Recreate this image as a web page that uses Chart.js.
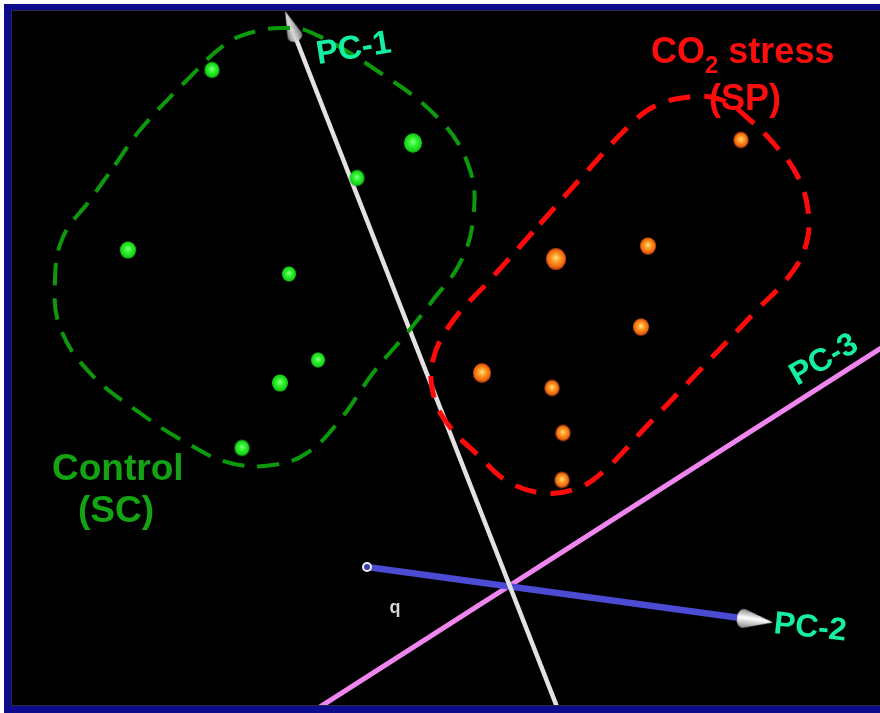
<!DOCTYPE html>
<html>
<head>
<meta charset="utf-8">
<script src="https://cdn.jsdelivr.net/npm/chart.js@4.4.1/dist/chart.umd.min.js"></script>
<style>
  html, body { margin: 0; padding: 0; background: #fff; width: 880px; height: 713px; overflow: hidden; }
  #frame { position: absolute; left: 4px; top: 4px; width: 900px; height: 720px; background: #0b0b8c; }
  #panel { position: absolute; left: 11px; top: 10px; width: 880px; height: 694px; background: #000;
           border-top: 1px solid #2b2b45; border-left: 1px solid #2b2b45; border-bottom: 1px solid #2b2b45; }
  canvas { position: absolute; left: 0; top: 0; }
</style>
</head>
<body>
<div id="frame"></div>
<div id="panel"></div>
<canvas id="pca" width="880" height="713"></canvas>
<script>
// Projected PCA scores of each sample (horizontal, vertical screen score)
const controlX = [212, 413, 357, 128, 289, 318, 280, 242];
const controlY = [70, 143, 178, 250, 274, 360, 383, 448];
const stressX  = [741, 556, 648, 641, 482, 552, 563, 562];
const stressY  = [140, 259, 246, 327, 373, 388, 433, 480];

// Outline around each group
const controlHullX = [115, 140, 190, 227, 257, 285, 310, 373, 440, 470, 473, 460, 433, 407, 373, 340, 307, 273, 230, 187, 140, 90, 60, 55, 63, 90, 115];
const controlHullY = [165, 130, 77, 43, 31, 28, 32, 68, 120, 170, 220, 263, 300, 333, 373, 420, 453, 465, 463, 443, 413, 373, 327, 280, 237, 200, 165];
const stressHullX  = [540, 590, 630, 655, 690, 722, 750, 775, 797, 808, 806, 790, 755, 700, 645, 605, 578, 543, 507, 478, 450, 434, 433, 452, 490, 540];
const stressHullY  = [224, 168, 125, 106, 97, 100, 120, 145, 175, 210, 245, 275, 312, 370, 428, 470, 488, 493, 481, 455, 427, 397, 360, 322, 280, 224];

// Principal component axes (from, to)
const pc1X = [559, 291], pc1Y = [712, 26];
const pc2X = [367, 755], pc2Y = [567, 620];
const pc3X = [312, 892], pc3Y = [712, 341];

// Text
const axisNames  = ['PC-1', 'PC-2', 'PC-3'];
const groupNames = ['Control', '(SC)', 'CO', '2', ' stress', '(SP)'];
const depthMark  = 'q';

// Marker sizes (depth cue)
const controlSize = [7.5, 9, 7.5, 8, 7, 7, 8, 7.5];
const stressSize  = [7.5, 10, 8, 8, 9, 7.5, 7.5, 7.5];

const FONT = '"Liberation Sans", Arial, sans-serif';
const pts = (xs, ys) => xs.map((x, i) => ({ x, y: ys[i] }));

function dotSprite(r, stops) {
  const w = Math.ceil(r * 2) + 4, h = Math.ceil(r * 2.2) + 4;
  const c = document.createElement('canvas');
  c.width = w; c.height = h;
  const g = c.getContext('2d');
  const grad = g.createRadialGradient(w / 2, h / 2 - r * 0.15, 0, w / 2, h / 2, r * 1.1);
  stops.forEach(([o, col]) => grad.addColorStop(o, col));
  g.fillStyle = grad;
  g.beginPath();
  g.ellipse(w / 2, h / 2, r, r * 1.1, 0, 0, Math.PI * 2);
  g.fill();
  return c;
}

function coneSprite(len, wid, light, dark) {
  const c = document.createElement('canvas');
  c.width = Math.ceil(wid) + 2; c.height = Math.ceil(len) + 4;
  const g = c.getContext('2d');
  const cx = c.width / 2;
  const grad = g.createLinearGradient(cx - wid / 2, 0, cx + wid / 2, 0);
  grad.addColorStop(0, dark); grad.addColorStop(0.45, light); grad.addColorStop(1, dark);
  g.fillStyle = grad;
  g.beginPath();
  g.moveTo(cx, 1);
  g.lineTo(cx + wid / 2, len - wid * 0.2);
  g.quadraticCurveTo(cx + wid / 2, len + 3, cx, len + 3);
  g.quadraticCurveTo(cx - wid / 2, len + 3, cx - wid / 2, len - wid * 0.2);
  g.closePath();
  g.fill();
  return c;
}

const greenStops  = [[0, '#8dff8d'], [0.4, '#30f530'], [0.85, '#16cf16'], [1, '#0a7a0a']];
const orangeStops = [[0, '#ffe48a'], [0.35, '#ffa22a'], [0.75, '#f06a10'], [1, '#a83406']];
const greenDots  = controlSize.map(r => dotSprite(r, greenStops));
const orangeDots = stressSize.map(r => dotSprite(r, orangeStops));

const cone1 = coneSprite(30, 15, '#dcdcdc', '#7a7a7a');
const cone2 = coneSprite(34, 19, '#ffffff', '#8a8a8a');

// heading of an axis, degrees clockwise from "up"
const heading = (xs, ys) => Math.atan2(xs[1] - xs[0], -(ys[1] - ys[0])) * 180 / Math.PI;

const labels = [
  { runs: [{ t: axisNames[0] }], x: 318, y: 64, rot: -9, size: 33, color: '#14f0a0' },
  { runs: [{ t: axisNames[1] }], x: 773, y: 633, rot: 6, size: 32, color: '#14f0a0' },
  { runs: [{ t: axisNames[2] }], x: 797, y: 386, rot: -30, size: 32, color: '#14f0a0' },
  { runs: [{ t: groupNames[0] }], x: 52, y: 480, size: 37, color: '#13a313' },
  { runs: [{ t: groupNames[1] }], x: 116, y: 522, size: 37, color: '#13a313', center: true },
  { runs: [{ t: groupNames[2] }, { t: groupNames[3], sub: true }, { t: groupNames[4] }], x: 651, y: 63, size: 36, color: '#ff0d0d' },
  { runs: [{ t: groupNames[5] }], x: 745, y: 110, size: 36, color: '#ff0d0d', center: true },
  { runs: [{ t: depthMark }], x: 395, y: 613, size: 18, color: '#d8d8d8', center: true }
];

const labelPlugin = {
  id: 'pcaLabels',
  afterDatasetsDraw(chart) {
    const { ctx, scales: { x, y } } = chart;
    ctx.save();
    ctx.textBaseline = 'alphabetic';
    ctx.textAlign = 'left';
    for (const l of labels) {
      const fontOf = r => `bold ${r.sub ? Math.round(l.size * 0.66) : l.size}px ${FONT}`;
      let total = 0;
      for (const r of l.runs) { ctx.font = fontOf(r); total += ctx.measureText(r.t).width; }
      ctx.save();
      ctx.translate(x.getPixelForValue(l.x), y.getPixelForValue(l.y));
      if (l.rot) ctx.rotate(l.rot * Math.PI / 180);
      ctx.fillStyle = l.color;
      let cx = l.center ? -total / 2 : 0;
      for (const r of l.runs) {
        ctx.font = fontOf(r);
        ctx.fillText(r.t, cx, r.sub ? l.size * 0.28 : 0);
        cx += ctx.measureText(r.t).width;
      }
      ctx.restore();
    }
    ctx.restore();
  }
};

new Chart(document.getElementById('pca'), {
  type: 'scatter',
  data: {
    datasets: [
      {
        label: 'Control (SC)',
        data: pts(controlX, controlY),
        pointStyle: c => greenDots[c.dataIndex],
        pointRadius: c => controlSize[c.dataIndex],
        order: 0
      },
      {
        label: 'CO2 stress (SP)',
        data: pts(stressX, stressY),
        pointStyle: c => orangeDots[c.dataIndex],
        pointRadius: c => stressSize[c.dataIndex],
        order: 0
      },
      {
        label: 'Control outline',
        data: pts(controlHullX, controlHullY),
        showLine: true, tension: 0.4, fill: false,
        borderColor: '#0c9a0c', borderWidth: 4, borderDash: [22, 13],
        pointRadius: 0, order: 1
      },
      {
        label: 'Stress outline',
        data: pts(stressHullX, stressHullY),
        showLine: true, tension: 0.4, fill: false,
        borderColor: '#ff0a0a', borderWidth: 5, borderDash: [22, 14],
        pointRadius: 0, order: 1
      },
      {
        label: axisNames[0],
        data: pts(pc1X, pc1Y),
        showLine: true, borderColor: '#e2e2e2', borderWidth: 4.5,
        pointRadius: c => c.dataIndex === 1 ? 10 : 0,
        pointStyle: c => c.dataIndex === 1 ? cone1 : 'circle',
        rotation: heading(pc1X, pc1Y),
        clip: 0, order: 2
      },
      {
        label: axisNames[1],
        data: pts(pc2X, pc2Y),
        showLine: true, borderColor: '#4b4bd4', borderWidth: 6.5,
        pointRadius: c => c.dataIndex === 1 ? 12 : 4,
        pointStyle: c => c.dataIndex === 1 ? cone2 : 'circle',
        pointBackgroundColor: '#3a3aa8',
        pointBorderColor: '#f2f2f2',
        pointBorderWidth: 2,
        rotation: heading(pc2X, pc2Y),
        clip: 0, order: 3
      },
      {
        label: axisNames[2],
        data: pts(pc3X, pc3Y),
        showLine: true, borderColor: '#ef86ef', borderWidth: 5,
        pointRadius: 0,
        clip: 0, order: 4
      }
    ]
  },
  options: {
    responsive: false,
    animation: false,
    devicePixelRatio: 1,
    events: [],
    layout: { autoPadding: false, padding: { left: 12, top: 11, right: 0, bottom: 8 } },
    scales: {
      x: { type: 'linear', min: 12, max: 880, display: false },
      y: { type: 'linear', min: 11, max: 705, reverse: true, display: false }
    },
    plugins: { legend: { display: false }, tooltip: { enabled: false } }
  },
  plugins: [labelPlugin]
});
</script>
</body>
</html>
